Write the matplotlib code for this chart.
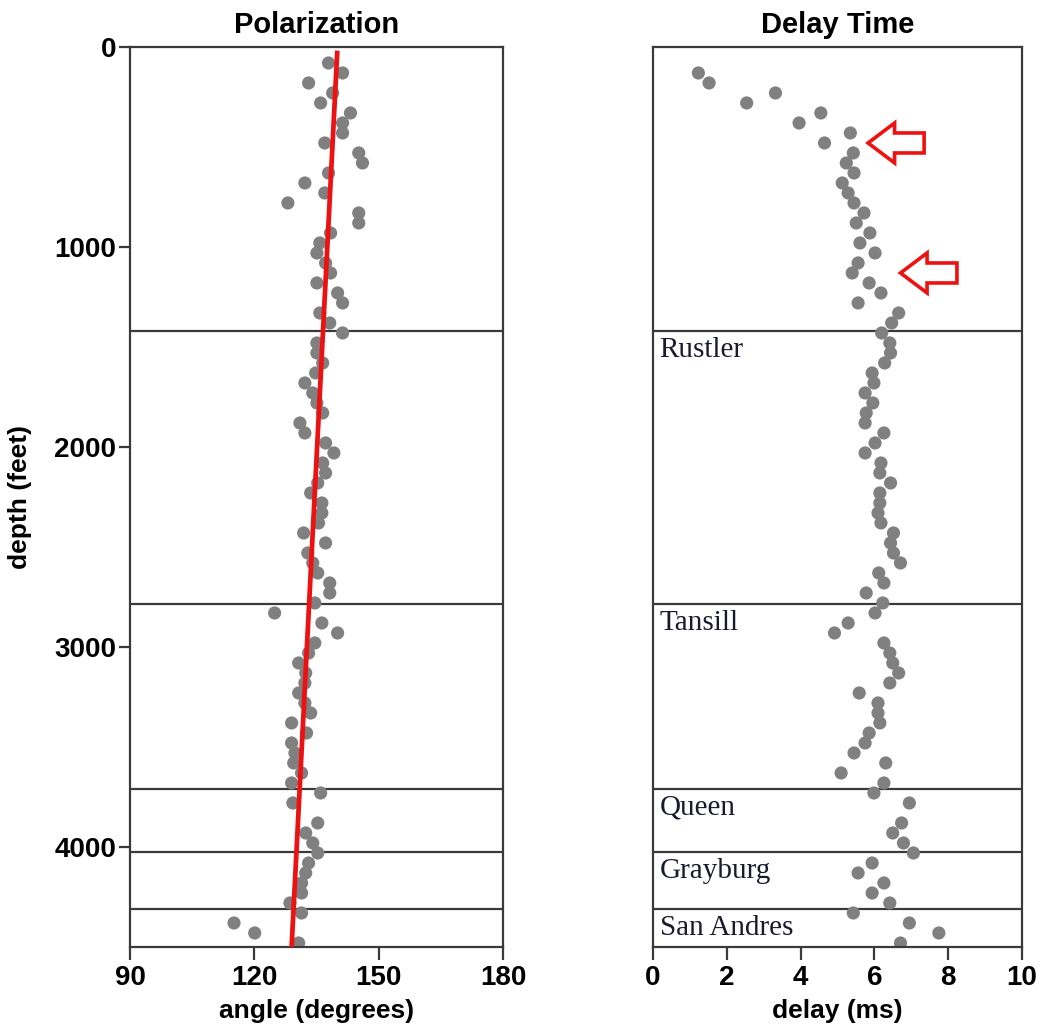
import matplotlib
matplotlib.use("Agg")
import matplotlib.pyplot as plt
import numpy as np

# polarization angle (degrees) vs depth (feet)
pol_depth = [80, 130, 180, 230, 280, 330, 380, 430, 480, 530, 580, 630, 680, 730, 780,
             830, 880, 930, 980, 1030, 1080, 1130, 1180, 1230, 1280, 1330, 1380, 1430,
             1480, 1530, 1580, 1630, 1680, 1730, 1780, 1830, 1880, 1930, 1980, 2030,
             2080, 2130, 2180, 2230, 2280, 2330, 2380, 2430, 2480, 2530, 2580, 2630,
             2680, 2730, 2780, 2830, 2880, 2930, 2980, 3030, 3080, 3130, 3180, 3230,
             3280, 3330, 3380, 3430, 3480, 3530, 3580, 3630, 3680, 3730, 3780, 3880,
             3930, 3980, 4030, 4080, 4130, 4180, 4230, 4280, 4330, 4380, 4430, 4480]
pol_angle = [137.9, 141.3, 133.1, 138.9, 136.0, 143.2, 141.3, 141.3, 137.0, 145.2, 146.1,
             137.9, 132.2, 137.0, 128.1, 145.2, 145.2, 138.4, 135.8, 135.1, 137.2, 138.4,
             135.1, 140.1, 141.3, 135.8, 138.2, 141.3,
             135.1, 135.1, 136.5, 134.8, 132.2, 134.1, 135.1, 136.5, 131.0, 132.2, 137.2,
             139.2, 136.5, 137.2, 135.3, 133.6, 136.3, 136.3, 135.5, 131.9, 137.2, 132.9,
             134.1, 135.3, 138.2, 138.2, 134.6, 124.9, 136.3, 140.1,
             134.6, 133.1, 130.7, 132.4, 132.2, 130.7, 132.2, 133.6, 129.0, 132.6, 129.0,
             129.8, 129.5, 131.4, 129.0, 136.0, 129.3, 135.3, 132.4, 134.1, 135.3, 133.1,
             132.4, 131.4, 131.4, 128.6, 131.4, 115.1, 120.1, 130.7]

# trend line through the polarization data
trend_depth = [30, 4500]
trend_angle = [140.0, 129.0]

# delay time (ms) vs depth (feet)
delay_depth = [130, 180, 230, 280, 330, 380, 430, 480, 530, 580, 630, 680, 730, 780, 830,
               880, 930, 980, 1030, 1080, 1130, 1180, 1230, 1280, 1330, 1380, 1430,
               1480, 1530, 1580, 1630, 1680, 1730, 1780, 1830, 1880, 1930, 1980, 2030,
               2080, 2130, 2180, 2230, 2280, 2330, 2380, 2430, 2480, 2530, 2580, 2630,
               2680, 2730, 2780, 2830, 2880, 2930, 2980, 3030, 3080, 3130, 3180, 3230,
               3280, 3330, 3380, 3430, 3480, 3530, 3580, 3630, 3680, 3730, 3780, 3880,
               3930, 3980, 4030, 4080, 4130, 4180, 4230, 4280, 4330, 4380, 4430, 4480]
delay_ms = [1.23, 1.52, 3.32, 2.54, 4.55, 3.96, 5.35, 4.65, 5.43, 5.24, 5.45, 5.13, 5.29,
            5.45, 5.72, 5.51, 5.88, 5.61, 6.02, 5.56, 5.40, 5.86, 6.18, 5.56, 6.66, 6.47,
            6.20,
            6.42, 6.44, 6.28, 5.94, 5.99, 5.75, 5.96, 5.78, 5.75, 6.26, 6.02, 5.75, 6.18,
            6.15, 6.44, 6.15, 6.15, 6.10, 6.18, 6.52, 6.44, 6.52, 6.71, 6.12, 6.26, 5.78,
            6.23, 6.02, 5.29, 4.92,
            6.26, 6.42, 6.50, 6.66, 6.42, 5.59, 6.10, 6.10, 6.15, 5.86, 5.75, 5.45, 6.31,
            5.10, 6.26, 5.99, 6.95, 6.74, 6.50, 6.79, 7.06, 5.94, 5.56, 6.26, 5.94, 6.42,
            5.43, 6.95, 7.75, 6.71]

# formation tops (feet)
formations = ["Rustler", "Tansill", "Queen", "Grayburg", "San Andres"]
formation_tops = [1420, 2785, 3710, 4025, 4310]

# arrows: tip delay, tail delay, depth
arrow_tip = [5.83, 6.71]
arrow_tail = [7.35, 8.24]
arrow_depth = [480, 1130]

sans = ["Liberation Sans", "DejaVu Sans"]
dot_color = "#808080"
frame_color = "#3a3a3a"

fig = plt.figure(figsize=(10.39, 10.30), dpi=100)
ax1 = fig.add_axes([0.1251, 0.0806, 0.359, 0.8738])
ax2 = fig.add_axes([0.6285, 0.0806, 0.355, 0.8738])

for ax in (ax1, ax2):
    ax.set_ylim(4500, 0)
    for s in ax.spines.values():
        s.set_color(frame_color)
        s.set_linewidth(1.6)
    for d in formation_tops:
        ax.axhline(d, color=frame_color, lw=1.6, zorder=1)
    ax.tick_params(axis="x", direction="out", length=9, width=1.6, color=frame_color,
                   labelsize=20, pad=4)

# left panel: polarization
ax1.scatter(pol_angle, pol_depth, s=90, color=dot_color, edgecolors="none", zorder=2)
ax1.plot(trend_angle, trend_depth, color="#ee1111", lw=3.4, zorder=3)
ax1.set_xlim(90, 180)
ax1.set_xticks([90, 120, 150, 180])
ax1.set_yticks([0, 1000, 2000, 3000, 4000])
ax1.tick_params(axis="y", direction="out", length=8, width=1.6, color=frame_color,
                labelsize=20, pad=2)
ax1.set_title("Polarization", fontsize=21, pad=10, family=sans, fontweight="bold")
ax1.set_xlabel("angle (degrees)", fontsize=19, labelpad=6, family=sans, fontweight="bold")
ax1.set_ylabel("depth (feet)", fontsize=19, labelpad=16, family=sans, fontweight="bold")

# right panel: delay time
ax2.scatter(delay_ms, delay_depth, s=90, color=dot_color, edgecolors="none", zorder=2)
ax2.set_xlim(0, 10)
ax2.set_xticks([0, 2, 4, 6, 8, 10])
ax2.set_yticks([])
ax2.set_title("Delay Time", fontsize=21, pad=10, family=sans, fontweight="bold")
ax2.set_xlabel("delay (ms)", fontsize=19, labelpad=6, family=sans, fontweight="bold")

for name, top in zip(formations, formation_tops):
    ax2.text(0.18, top + 30, name, fontsize=21, color="#1a1a2e", va="top", ha="left",
             family=["Liberation Serif", "DejaVu Serif"], zorder=4)

for tip, tail, d in zip(arrow_tip, arrow_tail, arrow_depth):
    ax2.arrow(tail, d, tip - tail, 0, width=100, head_width=200, head_length=0.72,
              length_includes_head=True, fill=False, ec="#ee1111", lw=2.6, zorder=5)

for ax in (ax1, ax2):
    for lab in ax.get_xticklabels() + ax.get_yticklabels():
        lab.set_family(sans)
        lab.set_fontweight("bold")

fig.savefig("out.png", dpi=100)
